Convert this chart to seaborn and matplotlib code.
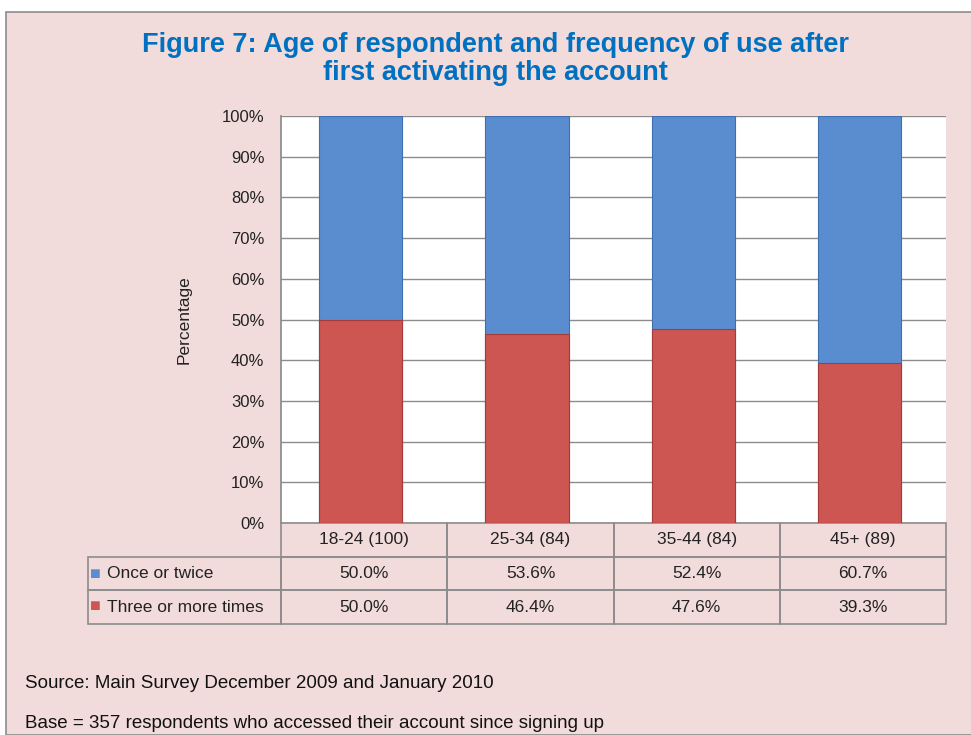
import matplotlib
matplotlib.use("Agg")
import matplotlib.pyplot as plt
import matplotlib.patches as mpatches
import numpy as np
import pandas as pd
import seaborn as sns

categories = ['18-24 (100)', '25-34 (84)', '35-44 (84)', '45+ (89)']
once_or_twice = [50.0, 53.6, 52.4, 60.7]
three_or_more = [50.0, 46.4, 47.6, 39.3]
series_names = ['Once or twice', 'Three or more times']

bg = '#F2DCDB'
blue = '#5A8DD0'
red = '#CD5552'

sns.set_theme(style='white')
plt.rcParams['font.family'] = ['Liberation Sans', 'DejaVu Sans']

df = pd.DataFrame({'cat': categories,
                   'once': once_or_twice,
                   'three': three_or_more})
df['total'] = df['once'] + df['three']

fig = plt.figure(figsize=(9.71, 7.35), dpi=100)
fig.patch.set_facecolor('white')
# pink panel with grey frame
fig.patches.append(mpatches.Rectangle((6 / 971, 0), 1.2, 1 - 12 / 735,
                                      transform=fig.transFigure,
                                      facecolor=bg, edgecolor='#8C8C8C',
                                      linewidth=1.2, zorder=-10))

ax = fig.add_axes([281 / 971, 1 - 523 / 735, 665 / 971, 407 / 735])
ax.set_facecolor('white')

sns.barplot(data=df, x='cat', y='total', color=blue, width=0.5,
            edgecolor='#3F6FAF', linewidth=0.8, saturation=1, ax=ax, zorder=3)
sns.barplot(data=df, x='cat', y='three', color=red, width=0.5,
            edgecolor='#A53C3A', linewidth=0.8, saturation=1, ax=ax, zorder=4)

ax.set_ylim(0, 100)
ax.set_xlim(-0.48, 3.52)
ax.set_yticks(np.arange(0, 101, 10))
ax.set_yticklabels([f'{v}%' for v in range(0, 101, 10)], fontsize=12,
                   color='#222222')
ax.tick_params(axis='y', length=0, pad=12)
ax.set_xticks([])
ax.set_xlabel('')
ax.set_ylabel('Percentage', fontsize=12.5, color='#222222', labelpad=22)
ax.yaxis.grid(True, color='#8C8C8C', linewidth=1.0, zorder=0)
for s in ['top', 'right', 'bottom']:
    ax.spines[s].set_visible(False)
ax.spines['left'].set_color('#8C8C8C')

# data table under the plot
cell_text = [[''] + categories,
             [series_names[0]] + [f'{v:.1f}%' for v in once_or_twice],
             [series_names[1]] + [f'{v:.1f}%' for v in three_or_more]]
x0 = (88 - 281) / 665
tbl = ax.table(cellText=cell_text, cellLoc='center',
               colWidths=[193 / 665] + [166 / 665] * 4,
               bbox=[x0, -101 / 407, 1 - x0, 101 / 407])
tbl.auto_set_font_size(False)
tbl.set_fontsize(12.5)
for (r, c), cell in tbl.get_celld().items():
    cell.set_facecolor('none')
    cell.set_edgecolor('#8C8C8C')
    cell.set_linewidth(1.2)
    cell.get_text().set_color('#222222')
    if c == 0:
        cell.get_text().set_ha('left')
        cell.PAD = 0.1
    if r == 0 and c == 0:
        cell.visible_edges = ''
# legend keys in the row label cells
for i, col in enumerate([blue, red]):
    ax.text(x0 + 2 / 665, -(36 + 33 * i + 15) / 407, '■', color=col,
            fontsize=13, va='center', ha='left', transform=ax.transAxes)

fig.text(495 / 971, 1 - 59 / 735,
         'Figure 7: Age of respondent and frequency of use after\nfirst activating the account',
         ha='center', va='center', fontsize=19.5, fontweight='bold',
         color='#0070C0', linespacing=1.1)
fig.text(25 / 971, 1 - 683 / 735, 'Source: Main Survey December 2009 and January 2010',
         fontsize=13.5, color='#111111', va='center')
fig.text(25 / 971, 1 - 724 / 735, 'Base = 357 respondents who accessed their account since signing up',
         fontsize=13.5, color='#111111', va='center')

fig.savefig('out.png', dpi=100, facecolor=fig.get_facecolor())
